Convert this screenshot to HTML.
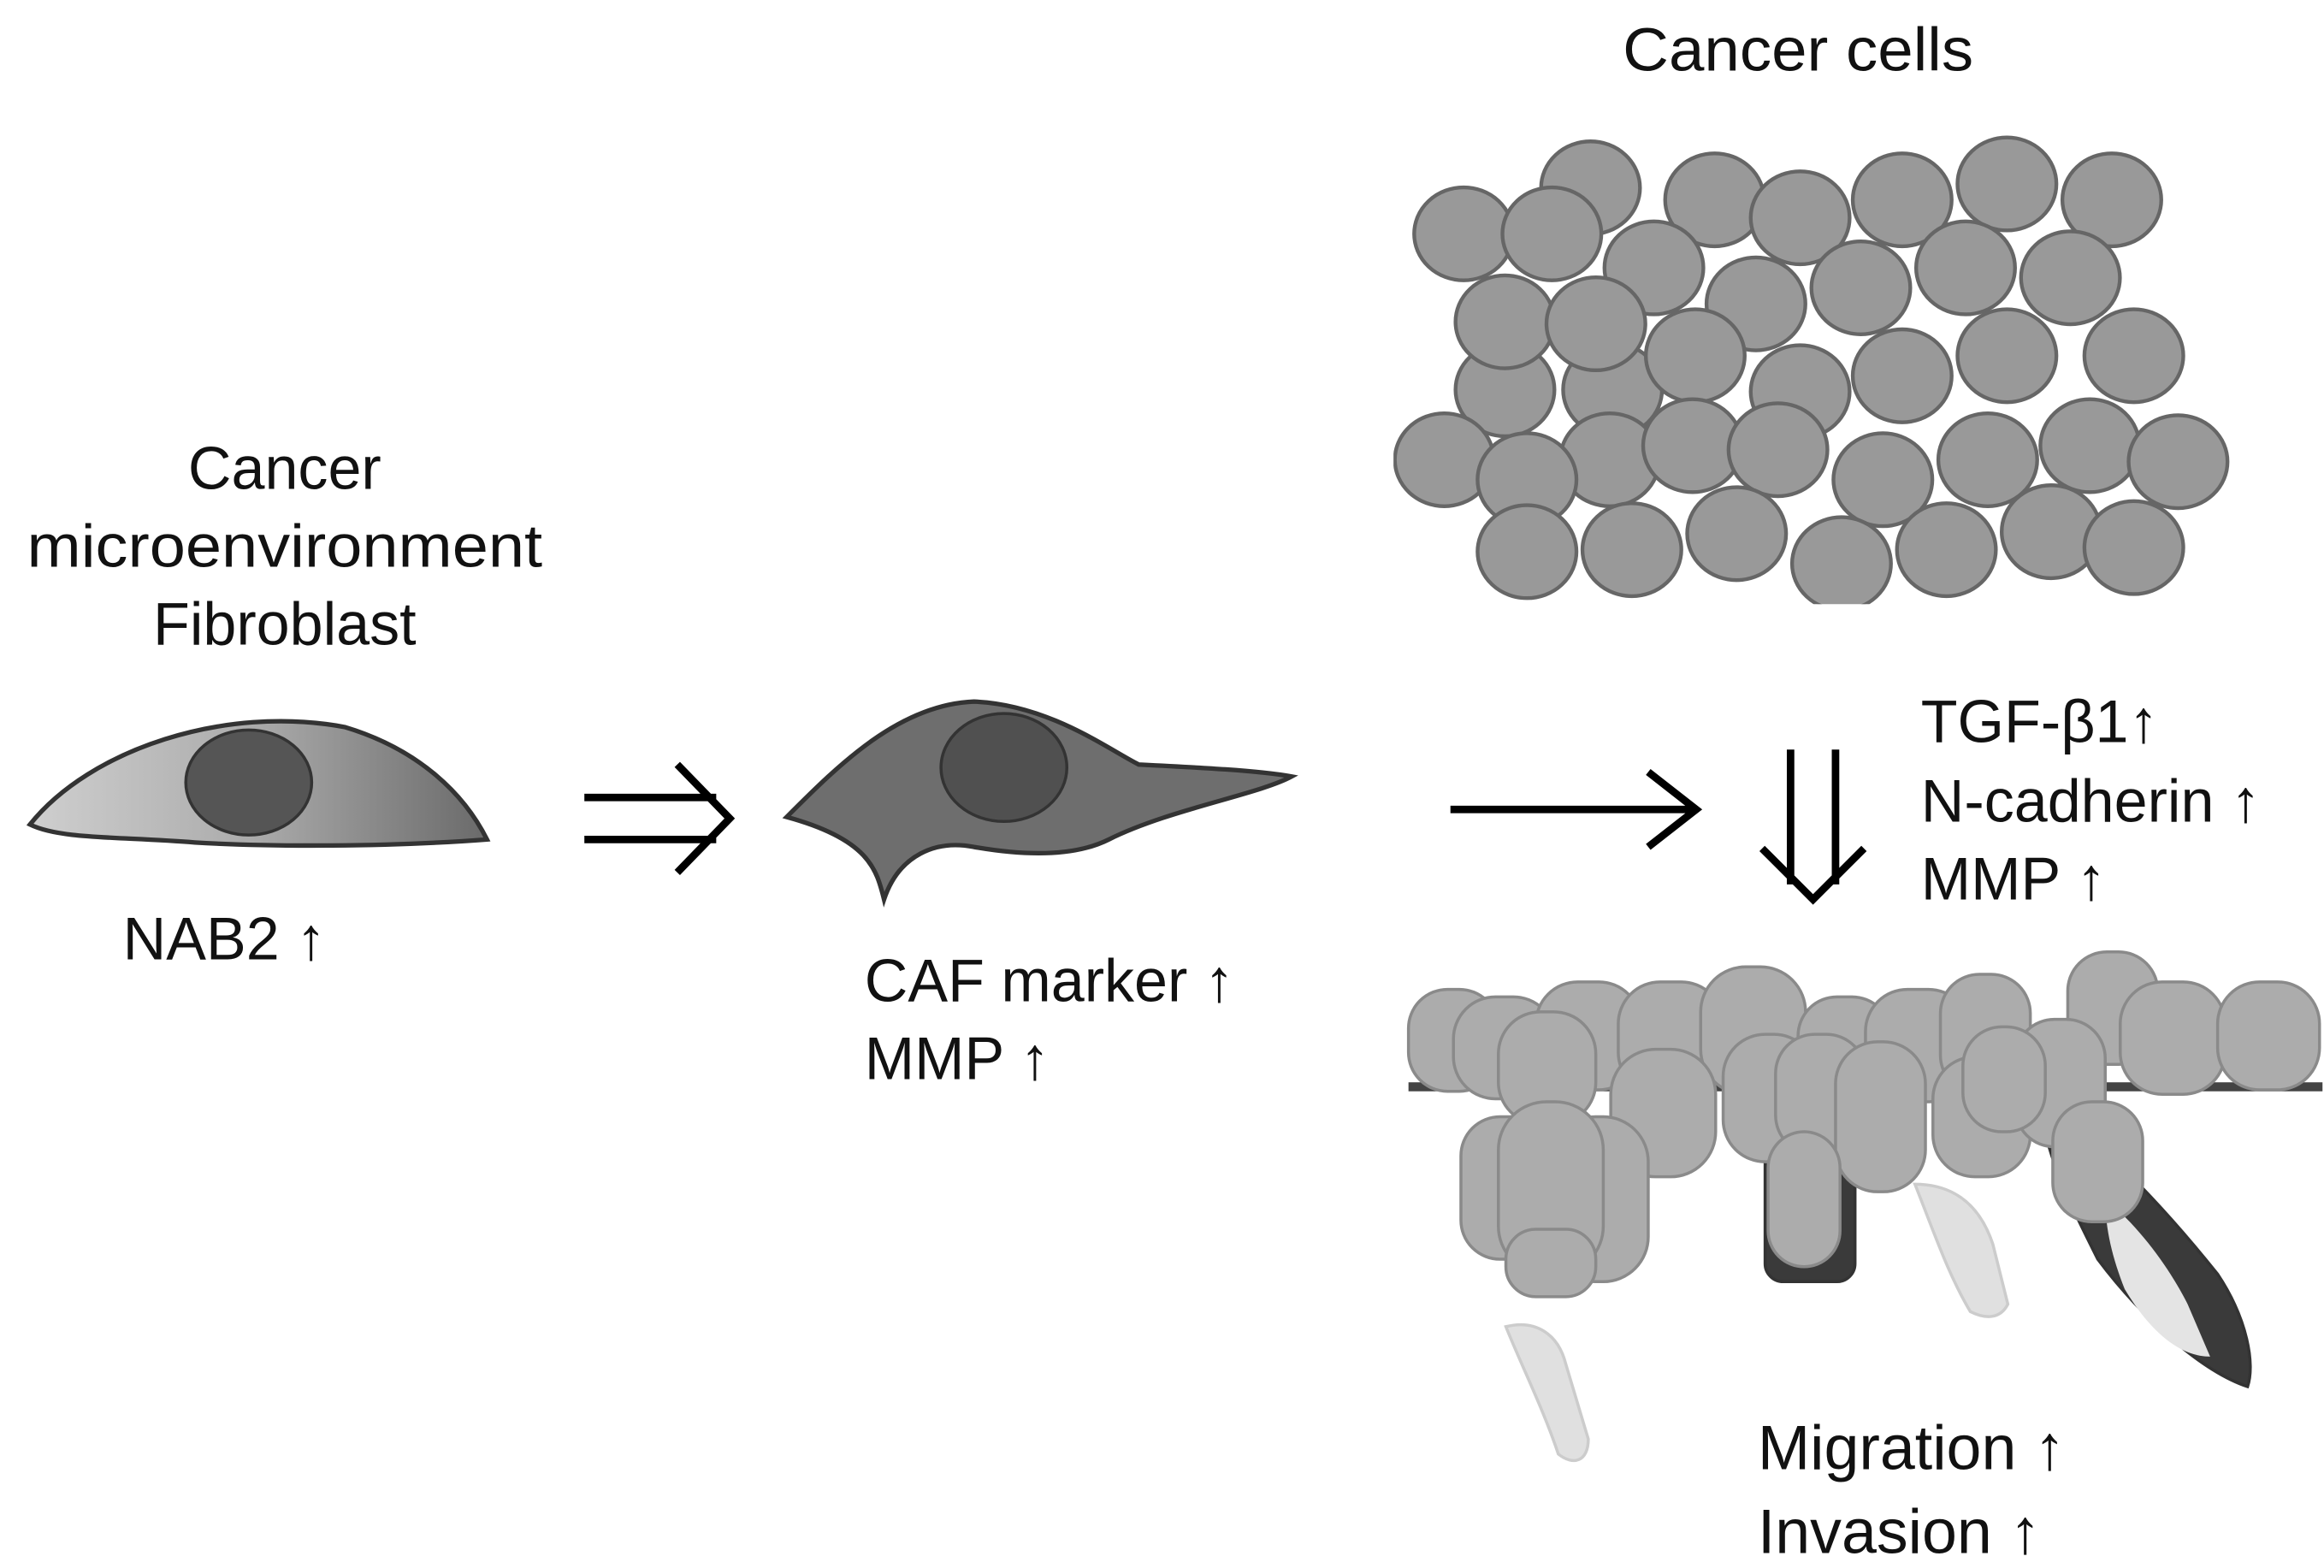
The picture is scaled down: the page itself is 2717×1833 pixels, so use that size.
<!DOCTYPE html>
<html><head><meta charset="utf-8"><style>
html,body{margin:0;padding:0;background:#fff;}
svg{display:block;}
text{font-family:"Liberation Sans",sans-serif;fill:#111;}
</style></head><body>
<svg width="2717" height="1833" viewBox="0 0 1551 1046" preserveAspectRatio="none" xmlns="http://www.w3.org/2000/svg">
<defs>
<linearGradient id="g1" x1="0" x2="1" y1="0" y2="0"><stop offset="0" stop-color="#cfcfcf"/><stop offset="0.5" stop-color="#aaa"/><stop offset="1" stop-color="#6a6a6a"/></linearGradient>
<clipPath id="cc"><rect x="930" y="90" width="600" height="313"/></clipPath>
</defs>
<text x="1200" y="47" font-size="41" text-anchor="middle" textLength="234" lengthAdjust="spacingAndGlyphs">Cancer cells</text>
<g clip-path="url(#cc)" fill="#999" stroke="#666" stroke-width="2.5">
<ellipse cx="1061.5" cy="125.3" rx="33" ry="31"/><ellipse cx="976.8" cy="156" rx="33" ry="31"/><ellipse cx="1035.7" cy="156" rx="33" ry="31"/><ellipse cx="1144.3" cy="133.3" rx="33" ry="31"/><ellipse cx="1201.4" cy="145.3" rx="33" ry="31"/><ellipse cx="1269.5" cy="133.3" rx="33" ry="31"/><ellipse cx="1339.4" cy="122.7" rx="33" ry="31"/><ellipse cx="1409.4" cy="133.3" rx="33" ry="31"/>
<ellipse cx="1103.8" cy="178.7" rx="33" ry="31"/><ellipse cx="1171.9" cy="202.7" rx="33" ry="31"/><ellipse cx="1241.9" cy="192" rx="33" ry="31"/><ellipse cx="1311.8" cy="178.7" rx="33" ry="31"/><ellipse cx="1381.8" cy="185.3" rx="33" ry="31"/>
<ellipse cx="1004.4" cy="260" rx="33" ry="31"/><ellipse cx="1076.2" cy="260" rx="33" ry="31"/>
<ellipse cx="1004.4" cy="214.7" rx="33" ry="31"/><ellipse cx="1065.1" cy="216" rx="33" ry="31"/><ellipse cx="1131.4" cy="237.3" rx="33" ry="31"/><ellipse cx="1201.4" cy="261.3" rx="33" ry="31"/><ellipse cx="1269.5" cy="250.7" rx="33" ry="31"/><ellipse cx="1339.4" cy="237.3" rx="33" ry="31"/><ellipse cx="1424.1" cy="237.3" rx="33" ry="31"/>
<ellipse cx="963.9" cy="306.7" rx="33" ry="31"/><ellipse cx="1074.3" cy="306.7" rx="33" ry="31"/><ellipse cx="1129.6" cy="297.3" rx="33" ry="31"/><ellipse cx="1186.6" cy="300" rx="33" ry="31"/><ellipse cx="1256.6" cy="320" rx="33" ry="31"/><ellipse cx="1326.6" cy="306.7" rx="33" ry="31"/><ellipse cx="1394.7" cy="297.3" rx="33" ry="31"/><ellipse cx="1453.6" cy="308" rx="33" ry="31"/><ellipse cx="1019.1" cy="320" rx="33" ry="31"/>
<ellipse cx="1019.1" cy="368" rx="33" ry="31"/><ellipse cx="1089.1" cy="366.7" rx="33" ry="31"/><ellipse cx="1159" cy="356" rx="33" ry="31"/><ellipse cx="1229" cy="376" rx="33" ry="31"/><ellipse cx="1299" cy="366.7" rx="33" ry="31"/><ellipse cx="1368.9" cy="354.7" rx="33" ry="31"/><ellipse cx="1424.1" cy="365.3" rx="33" ry="31"/>
</g>

<text font-size="40" text-anchor="middle"><tspan x="190" y="326">Cancer</tspan><tspan x="190" y="378" textLength="344" lengthAdjust="spacingAndGlyphs">microenvironment</tspan><tspan x="190" y="430">Fibroblast</tspan></text>

<path d="M20,550 C60,500 150,470 230,485 C280,500 310,530 325,560 C260,565 180,565 130,562 C80,558 40,560 20,550 Z" fill="url(#g1)" stroke="#333" stroke-width="3"/>
<ellipse cx="166" cy="522" rx="42" ry="35" fill="#555" stroke="#333" stroke-width="2"/>
<text x="82" y="640" font-size="40">NAB2 ↑</text>

<path d="M390,532 H478 M390,560 H478 M452,510 L487,546 L452,582" fill="none" stroke="#000" stroke-width="5"/>

<path d="M525,545 C560,510 600,470 650,468 C700,470 740,500 760,510 C800,512 840,514 862,518 C840,530 780,540 740,560 C720,570 690,572 650,565 C625,560 600,570 590,600 C585,580 580,560 525,545 Z" fill="#6e6e6e" stroke="#333" stroke-width="3"/>
<ellipse cx="670" cy="512" rx="42" ry="36" fill="#505050" stroke="#333" stroke-width="2"/>
<text font-size="40"><tspan x="577" y="668">CAF marker ↑</tspan><tspan x="577" y="720">MMP ↑</tspan></text>

<path d="M968,540 H1130 M1100,515 L1132,540 L1100,565" fill="none" stroke="#000" stroke-width="5"/>
<path d="M1195,500 V590 M1225,500 V590 M1176,566 L1210,600 L1244,566" fill="none" stroke="#000" stroke-width="5"/>
<text font-size="40"><tspan x="1282" y="495">TGF-β1↑</tspan><tspan x="1282" y="548">N-cadherin ↑</tspan><tspan x="1282" y="600">MMP ↑</tspan></text>

<g stroke="#8a8a8a" stroke-width="2">
<rect x="940" y="722" width="610" height="6" fill="#444" stroke="none"/>
<path d="M1360,730 C1400,760 1440,800 1480,850 C1500,880 1505,910 1500,925 C1470,915 1430,880 1400,840 C1380,800 1365,770 1360,730 Z" fill="#3a3a3a" stroke="#333"/>
<path d="M1405,800 C1430,820 1450,850 1460,870 L1475,905 C1450,905 1430,880 1418,860 C1410,840 1405,820 1405,800 Z" fill="#e4e4e4" stroke="none"/>
<rect x="1178" y="730" width="60" height="125" rx="12" fill="#3a3a3a" stroke="#333"/>
<path d="M1278,790 C1300,790 1320,800 1330,830 L1340,870 C1335,880 1325,880 1315,875 C1300,850 1290,820 1278,790 Z" fill="#e0e0e0" stroke="#ccc"/>
<path d="M1005,885 C1025,880 1040,890 1045,910 L1060,960 C1060,975 1050,978 1040,970 C1030,940 1015,910 1005,885 Z" fill="#e0e0e0" stroke="#ccc"/>
<g fill="#acacac">
<rect x="940" y="660" width="60" height="68" rx="26"/><rect x="970" y="665" width="68" height="68" rx="28"/><rect x="1025" y="655" width="70" height="72" rx="28"/><rect x="1080" y="655" width="70" height="75" rx="28"/><rect x="1135" y="645" width="70" height="85" rx="30"/><rect x="1200" y="665" width="62" height="68" rx="26"/><rect x="1245" y="660" width="70" height="75" rx="28"/><rect x="1295" y="650" width="60" height="80" rx="26"/><rect x="1380" y="635" width="60" height="75" rx="26"/><rect x="1415" y="655" width="70" height="75" rx="28"/><rect x="1480" y="655" width="68" height="72" rx="28"/>
<rect x="1000" y="675" width="65" height="75" rx="28"/><rect x="1075" y="700" width="70" height="85" rx="30"/><rect x="1150" y="690" width="62" height="85" rx="28"/><rect x="1185" y="690" width="60" height="80" rx="26"/><rect x="1225" y="695" width="60" height="100" rx="28"/><rect x="1290" y="705" width="65" height="80" rx="28"/><rect x="1345" y="680" width="60" height="85" rx="26"/><rect x="1310" y="685" width="55" height="70" rx="26"/>
<rect x="975" y="745" width="60" height="95" rx="26"/><rect x="1035" y="745" width="65" height="110" rx="30"/><rect x="1000" y="735" width="70" height="115" rx="32"/><rect x="1005" y="820" width="60" height="45" rx="20"/>
<rect x="1180" y="755" width="48" height="90" rx="24"/><rect x="1370" y="735" width="60" height="80" rx="26"/>
</g>
</g>
<text font-size="42"><tspan x="1173" y="980">Migration ↑</tspan><tspan x="1173" y="1036">Invasion ↑</tspan></text>
</svg>
</body></html>
